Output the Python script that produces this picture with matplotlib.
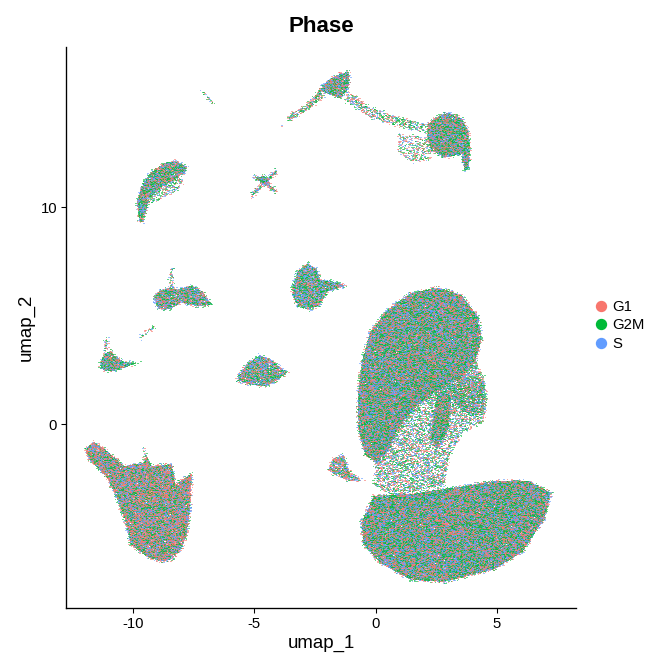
import numpy as np
import matplotlib
matplotlib.use("Agg")
import matplotlib.pyplot as plt
from matplotlib.path import Path
from matplotlib.lines import Line2D

plt.rcParams['font.family'] = ['Liberation Sans', 'DejaVu Sans']
plt.rcParams['axes.unicode_minus'] = False

phases = ['G1', 'G2M', 'S']
phase_colors = ['#F8766D', '#00BA38', '#619CFF']

# cluster outlines (umap_1, umap_2)
big_lower = [(-0.56, -4.51), (-0.07, -3.31), (1.46, -3.22), (3.54, -2.88), (4.93, -2.62),
             (6.32, -2.62), (7.22, -3.17), (6.94, -4.34), (6.04, -5.88), (4.93, -6.66),
             (2.85, -7.26), (1.46, -7.17), (0.21, -6.40), (-0.49, -5.54)]
big_upper = [(2.56, 6.29), (3.54, 5.95), (4.24, 4.92), (4.35, 3.89), (4.10, 2.86),
             (3.40, 2.18), (2.43, 1.49), (1.60, 0.81), (0.90, -0.22), (0.49, -1.25),
             (0.07, -1.77), (-0.42, -1.42), (-0.69, -0.22), (-0.72, 1.32), (-0.56, 2.86),
             (-0.21, 4.24), (0.49, 5.27), (1.46, 6.04)]
big_lobe = [(2.57, 1.49), (3.13, 1.32), (2.99, -0.22), (2.57, -1.08), (2.29, -0.74), (2.43, 0.63)]
big_side = [(3.40, 2.18), (4.10, 2.86), (4.45, 2.2), (4.55, 1.2), (4.3, 0.4), (3.6, 0.6),
            (3.1, 1.3), (2.43, 1.49)]
big_bridge = [(3.54, 2.35), (4.38, 1.84), (4.58, 0.98), (4.44, 0.12), (3.54, -0.39),
              (2.99, -1.60), (2.85, -2.80), (0.76, -3.31), (-0.07, -2.80), (0.07, -1.08),
              (1.46, 1.49)]
small_mid = [(-1.94, -2.11), (-1.74, -1.60), (-1.32, -1.42), (-1.04, -2.28), (-0.63, -2.54),
             (-1.04, -2.62), (-1.60, -2.37)]
bottom_left = [(-11.88, -1.08), (-11.60, -0.82), (-11.04, -1.25), (-10.35, -1.94), (-9.51, -1.77),
               (-9.51, -1.25), (-9.24, -1.94), (-8.40, -1.85), (-8.26, -2.80), (-7.57, -2.28),
               (-7.64, -3.83), (-7.78, -5.03), (-7.99, -5.71), (-8.40, -6.23), (-8.82, -6.31),
               (-9.38, -6.14), (-10.07, -5.54), (-10.28, -4.51), (-10.63, -3.48), (-11.04, -2.45),
               (-11.74, -1.68), (-11.90, -1.34)]
mid_blob = [(-5.63, 2.26), (-5.21, 2.86), (-4.79, 3.17), (-4.38, 3.04), (-3.82, 2.52),
            (-3.61, 2.44), (-3.96, 2.09), (-4.51, 1.75), (-5.21, 1.84), (-5.69, 2.01)]
upper_mid = [(-3.40, 6.47), (-3.19, 7.07), (-2.78, 7.41), (-2.43, 7.15), (-2.29, 6.64),
             (-1.60, 6.55), (-1.25, 6.38), (-2.01, 6.12), (-2.29, 5.52), (-2.71, 5.27),
             (-3.19, 5.44), (-3.40, 5.95)]
left_mid = [(-9.10, 5.78), (-8.96, 6.12), (-8.54, 6.29), (-8.13, 6.21), (-7.57, 6.38),
            (-7.15, 6.12), (-6.74, 5.52), (-7.29, 5.44), (-7.99, 5.61), (-8.54, 5.27),
            (-8.96, 5.35)]
left_spike = [(-8.48, 6.2), (-8.45, 7.15), (-8.35, 7.15), (-8.32, 6.2)]
far_left = [(-11.32, 2.86), (-11.18, 3.21), (-10.90, 3.38), (-10.69, 3.12), (-10.35, 2.86),
            (-9.82, 2.83), (-10.35, 2.61), (-10.90, 2.44), (-11.32, 2.52)]
far_left_spike = [(-11.15, 3.2), (-11.12, 3.95), (-11.05, 3.95), (-11.02, 3.2)]
stray_line = [(-9.75, 4.0), (-9.1, 4.6), (-9.0, 4.55), (-9.65, 3.95)]
crescent = [(-9.72, 9.38), (-9.82, 10.24), (-9.65, 10.93), (-9.24, 11.61), (-8.68, 12.04),
            (-8.19, 12.13), (-7.78, 11.87), (-7.85, 11.61), (-8.06, 11.45), (-8.40, 11.20),
            (-8.96, 10.85), (-9.31, 10.41), (-9.49, 9.73), (-9.58, 9.30)]
crescent_inner = [(-8.06, 11.45), (-7.9, 11.2), (-8.2, 10.7), (-8.7, 10.5), (-9.1, 10.2),
                  (-9.31, 10.41), (-8.96, 10.85), (-8.40, 11.20)]
cross_a = [(-5.14, 10.58), (-4.10, 11.70), (-4.05, 11.62), (-5.08, 10.50)]
cross_b = [(-4.95, 11.50), (-4.08, 10.80), (-4.15, 10.70), (-4.98, 11.38)]
cross_core = [(-4.9, 11.35), (-4.6, 11.45), (-4.35, 11.15), (-4.6, 11.05)]
top_blob = [(-2.29, 15.39), (-2.01, 15.81), (-1.46, 16.16), (-1.11, 16.24), (-1.07, 15.90),
            (-1.18, 15.39), (-1.46, 15.04), (-1.88, 15.21)]
top_arm = [(-3.68, 13.93), (-3.40, 14.36), (-2.85, 14.70), (-2.29, 15.39), (-2.15, 15.04),
           (-2.85, 14.45), (-3.40, 14.10)]
top_streak = [(-1.18, 15.39), (-0.21, 14.61), (0.76, 14.19), (2.01, 13.84), (2.01, 13.45),
              (0.76, 13.80), (-0.21, 14.15), (-1.18, 14.85)]
top_scatter = [(1.0, 13.4), (2.2, 13.2), (2.3, 12.2), (1.5, 12.1), (0.9, 12.6)]
top_right = [(2.15, 13.84), (2.57, 14.19), (2.99, 14.36), (3.54, 14.10), (3.82, 13.50),
             (3.89, 12.64), (3.82, 11.78), (3.68, 11.70), (3.54, 12.47), (2.85, 12.30),
             (2.29, 12.64), (2.15, 13.16)]
tiny_dot = [(-6.98, 15.15), (-6.85, 15.05), (-6.80, 14.95), (-6.92, 15.05)]

# (outline, point density, G1/G2M/S share)
clusters = [
    (big_lower, 0.95, (0.33, 0.36, 0.31)),
    (big_upper, 0.95, (0.33, 0.36, 0.31)),
    (big_lobe, 0.7, (0.3, 0.4, 0.3)),
    (big_side, 0.4, (0.3, 0.38, 0.32)),
    (big_bridge, 0.28, (0.33, 0.36, 0.31)),
    (small_mid, 0.6, (0.4, 0.3, 0.3)),
    (bottom_left, 0.9, (0.45, 0.28, 0.27)),
    (mid_blob, 0.75, (0.33, 0.34, 0.33)),
    (upper_mid, 0.8, (0.3, 0.35, 0.35)),
    (left_mid, 0.8, (0.33, 0.34, 0.33)),
    (left_spike, 0.4, (0.4, 0.3, 0.3)),
    (far_left, 0.8, (0.35, 0.35, 0.3)),
    (far_left_spike, 0.35, (0.4, 0.3, 0.3)),
    (stray_line, 0.2, (0.3, 0.3, 0.4)),
    (crescent, 0.85, (0.33, 0.36, 0.31)),
    (crescent_inner, 0.25, (0.33, 0.4, 0.27)),
    (cross_a, 0.6, (0.35, 0.3, 0.35)),
    (cross_b, 0.6, (0.35, 0.3, 0.35)),
    (cross_core, 0.9, (0.33, 0.33, 0.34)),
    (top_blob, 0.9, (0.33, 0.36, 0.31)),
    (top_arm, 0.4, (0.4, 0.35, 0.25)),
    (top_streak, 0.3, (0.35, 0.4, 0.25)),
    (top_scatter, 0.2, (0.4, 0.35, 0.25)),
    (top_right, 0.9, (0.33, 0.36, 0.31)),
    (tiny_dot, 0.8, (0.33, 0.33, 0.34)),
]

xlim = (-12.75, 8.25)
ylim = (-8.5, 17.4)

fig = plt.figure(figsize=(7, 7), dpi=96)
ax = fig.add_axes([0.098, 0.0945, 0.759, 0.836])
ax.set_xlim(*xlim)
ax.set_ylim(*ylim)

# lattice finer than one output pixel so neighbouring cells blend
pix_x = (xlim[1] - xlim[0]) / (0.759 * 672)
pix_y = (ylim[1] - ylim[0]) / (0.836 * 672)
step = 0.5
dx, dy = pix_x * step, pix_y * step


def cell_hash(ix, iy, salt):
    h = (ix * 73856093) ^ (iy * 19349663) ^ (salt * 83492791)
    h = (h ^ (h >> 13)) * 1274126177
    return ((h ^ (h >> 16)) & 0xFFFF) / 65536.0


px, py, pc = [], [], []
for k, (outline, dens, share) in enumerate(clusters):
    path = Path(outline)
    xs, ys = np.array(outline).T
    ix = np.arange(int(np.floor(xs.min() / dx)) - 10, int(np.ceil(xs.max() / dx)) + 11)
    iy = np.arange(int(np.floor(ys.min() / dy)) - 10, int(np.ceil(ys.max() / dy)) + 11)
    gx, gy = np.meshgrid(ix, iy)
    gx, gy = gx.ravel(), gy.ravel()
    pts = np.column_stack([gx * dx, gy * dy])
    inside = path.contains_points(pts)
    # a soft halo of loose cells around each outline
    near = path.contains_points(pts, radius=4 * pix_x) | path.contains_points(pts, radius=-4 * pix_x)
    h1 = cell_hash(gx, gy, 2 * k + 1)
    h2 = cell_hash(gx, gy, 2 * k + 2)
    keep = (inside & (h1 < dens * 0.7)) | (near & ~inside & (h1 < dens * 0.1))
    ph = np.where(h2 < share[0], 0, np.where(h2 < share[0] + share[1], 1, 2))
    px.append(pts[keep, 0])
    py.append(pts[keep, 1])
    pc.append(ph[keep])

px = np.concatenate(px)
py = np.concatenate(py)
pc = np.concatenate(pc)
order = np.argsort(cell_hash(np.arange(len(px)), 7, 99))
cols = np.array(phase_colors)[pc]
ax.scatter(px[order], py[order], c=cols[order], s=0.8, marker='s', linewidths=0,
           alpha=0.6, rasterized=True)

for side in ['top', 'right']:
    ax.spines[side].set_visible(False)
for side in ['left', 'bottom']:
    ax.spines[side].set_color('black')
    ax.spines[side].set_linewidth(1.0)
ax.set_xticks([-10, -5, 0, 5])
ax.set_yticks([0, 10])
ax.tick_params(length=3.5, width=0.8, color='black', labelcolor='black', labelsize=11.2, pad=3)
ax.set_xlabel('umap_1', fontsize=14, labelpad=3)
ax.set_ylabel('umap_2', fontsize=14, labelpad=4)
ax.set_title('Phase', fontsize=16.8, fontweight='bold', pad=11)

handles = [Line2D([], [], marker='o', linestyle='', markersize=7.5, color=c) for c in phase_colors]
fig.legend(handles, phases, loc='center left', bbox_to_anchor=(0.885, 0.516), frameon=False,
           fontsize=11.2, handlelength=0.8, handletextpad=0.35, labelspacing=0.3,
           borderpad=0, borderaxespad=0)

fig.savefig('out.png', dpi=96)
